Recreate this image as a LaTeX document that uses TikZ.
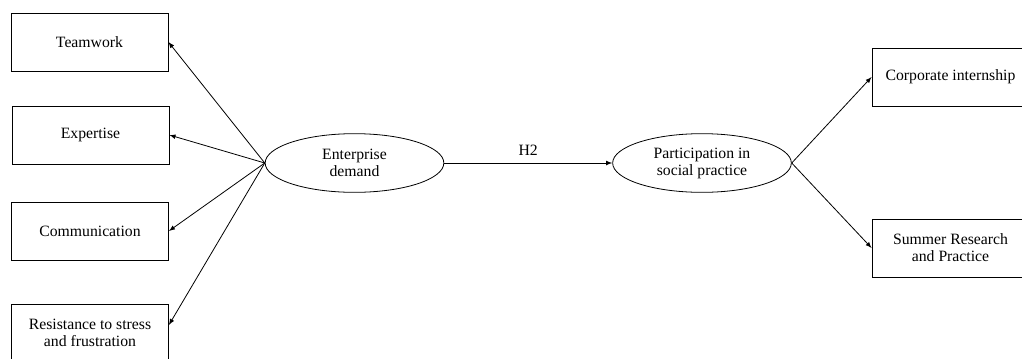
\documentclass[tikz,border=0pt]{standalone}
\usepackage{fontspec}
\setmainfont{Liberation Serif}
\usetikzlibrary{shapes.geometric}
\usetikzlibrary{arrows}

\tikzset{
	box/.style={draw, minimum width=117.75pt, minimum height=43.5pt, align=center, inner sep=2pt},
	oval/.style={draw, ellipse, minimum width=134pt, minimum height=44pt, align=center, inner sep=1pt},
	link/.style={-latex, line width=0.6pt}
}

\begin{document}
\begin{tikzpicture}[x=0.75pt, y=-0.75pt, font=\fontsize{11.8}{12.75}\selectfont, line width=0.6pt]
		\clip (0,0) rectangle (1022,358);
		% left side: what enterprises ask for
		\node[box] (team) at (89.5,42) {Teamwork};
		\node[box] (expert) at (90.5,135) {Expertise};
		\node[box] (comm) at (90,231) {Communication};
		\node[box] (resist) at (90,333) {Resistance to stress\\and frustration};
		% the two latent variables
		\node[oval] (demand) at (354.5,163) {Enterprise\\demand};
		\node[oval] (social) at (702,163) {Participation in\\social practice};
		% right side
		\node[box] (intern) at (950.5,77) {Corporate internship};
		\node[box] (summer) at (950.5,248) {Summer Research\\and Practice};
		\draw [link] (demand.west) -- (team.east);
		\draw [link] (demand.west) -- (expert.east);
		\draw [link] (demand.west) -- (comm.east);
		\draw [link] (demand.west) -- ([yshift=6pt]resist.east);
		\draw [link] (demand.east) -- (social.west) node[midway, above, yshift=2pt] {H2};
		\draw [link] (social.east) -- (intern.west);
		\draw [link] (social.east) -- (summer.west);
	\end{tikzpicture}
\end{document}
